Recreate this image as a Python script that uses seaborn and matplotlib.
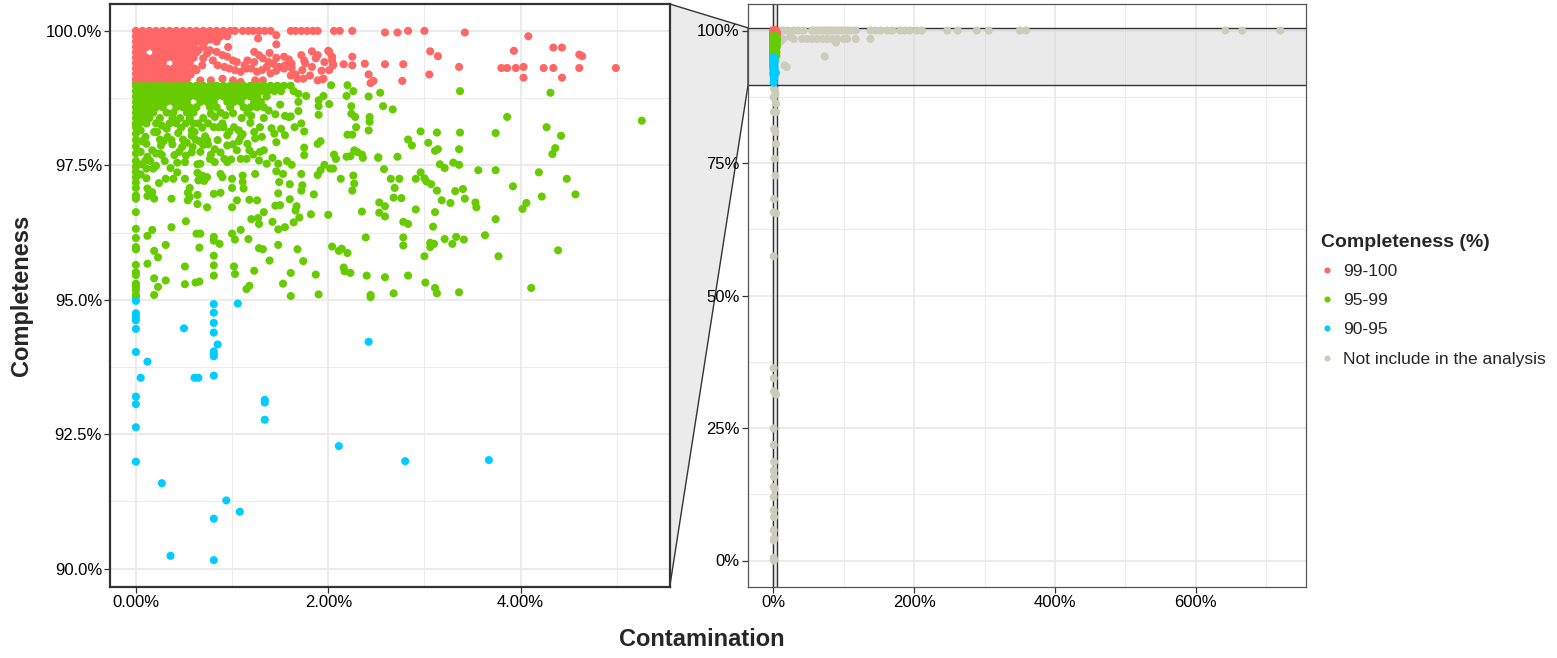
import matplotlib
matplotlib.use("Agg")
import matplotlib.pyplot as plt
import matplotlib.transforms as mtransforms
from matplotlib.patches import Polygon
from matplotlib.lines import Line2D
from matplotlib.ticker import FixedLocator, FuncFormatter
import pandas as pd
import seaborn as sns

sns.set_theme(style="white")
plt.rcParams["font.family"] = ["Liberation Sans", "DejaVu Sans"]

# ---------------------------------------------------------------------------
# Genome quality values (contamination %, completeness %)
# ---------------------------------------------------------------------------
GROUPS = ["99-100", "95-99", "90-95", "Not include in the analysis"]
COLORS = ["#FF6666", "#66CC00", "#00CCFF", "#CCCCBB"]

# dense band of genomes with 99-100 % completeness, one completeness level per row
red_rows = [
    (100.00, [0, 0.07, 0.14, 0.21, 0.28, 0.35, 0.42, 0.49, 0.56, 0.63, 0.70, 0.77, 0.84, 0.91, 0.98, 1.03]),
    (99.90, [0, 0.04, 0.11, 0.18, 0.25, 0.32, 0.39, 0.46, 0.53, 0.60, 0.67, 0.74, 0.81, 0.88, 0.95]),
    (99.80, [0, 0.07, 0.14, 0.21, 0.28, 0.35, 0.42, 0.49, 0.56, 0.63, 0.72, 0.84]),
    (99.70, [0, 0.04, 0.11, 0.18, 0.25, 0.32, 0.39, 0.46, 0.53, 0.60, 0.70, 0.96]),
    (99.60, [0, 0.07, 0.21, 0.28, 0.35, 0.42, 0.49, 0.56, 0.63]),
    (99.50, [0, 0.04, 0.11, 0.18, 0.25, 0.32, 0.39, 0.46, 0.53, 0.60]),
    (99.40, [0, 0.07, 0.14, 0.21, 0.28, 0.42, 0.49, 0.56]),
    (99.30, [0, 0.04, 0.11, 0.18, 0.25, 0.32, 0.39, 0.46, 0.53, 0.61]),
    (99.20, [0, 0.07, 0.14, 0.21, 0.28, 0.35, 0.42, 0.49, 0.56]),
    (99.10, [0, 0.04, 0.11, 0.18, 0.25, 0.32, 0.39, 0.46, 0.53]),
    (99.03, [0, 0.07, 0.14, 0.21, 0.28, 0.35, 0.42, 0.49]),
]

red_points = [
    (1.11, 100), (1.17, 100), (1.22, 100), (1.28, 100), (1.34, 100), (1.40, 100),
    (1.61, 100), (1.66, 100), (1.72, 100), (1.78, 100), (1.84, 100), (1.89, 100),
    (2.06, 100), (2.12, 100), (2.25, 100), (2.59, 99.97), (2.72, 99.97), (2.83, 100),
    (3.00, 100), (3.42, 99.97),
    (0.67, 99.80), (0.78, 99.84), (0.86, 99.88), (0.95, 99.95), (1.27, 99.86), (1.46, 99.92),
    (1.46, 99.75), (1.23, 99.61), (1.39, 99.59), (1.46, 99.50), (1.54, 99.52), (1.59, 99.47),
    (1.62, 99.39), (1.72, 99.55), (1.75, 99.45), (1.83, 99.62), (1.89, 99.55), (1.87, 99.49),
    (1.83, 99.33), (1.76, 99.40), (1.73, 99.27), (1.66, 99.19), (1.62, 99.31), (1.55, 99.36),
    (1.49, 99.33), (1.43, 99.39), (1.38, 99.42), (1.32, 99.49), (1.28, 99.55), (1.23, 99.42),
    (1.16, 99.45), (1.13, 99.36), (1.05, 99.42), (1.01, 99.45), (0.95, 99.52), (0.90, 99.55),
    (0.84, 99.61), (0.77, 99.64), (0.74, 99.58), (0.80, 99.45), (0.85, 99.36), (0.92, 99.33),
    (0.97, 99.30), (1.03, 99.27), (1.09, 99.24), (1.15, 99.30), (1.20, 99.30), (1.26, 99.24),
    (1.31, 99.27), (1.36, 99.33), (1.40, 99.21), (1.46, 99.26), (1.54, 99.30), (1.61, 99.17),
    (1.68, 99.11), (1.74, 99.11), (1.81, 99.17), (1.89, 99.08), (1.95, 99.11), (2.01, 99.27),
    (2.05, 99.36), (2.04, 99.45), (1.96, 99.42), (2.01, 99.61), (1.09, 99.05), (1.24, 99.08),
    (1.32, 99.08), (0.78, 99.08), (0.90, 99.11), (1.01, 99.08), (0.67, 99.08), (0.63, 99.27),
    (0.69, 99.36), (0.70, 99.49), (0.65, 99.64), (0.59, 99.55), (0.55, 99.39), (0.57, 99.19),
    (4.08, 99.90), (4.34, 99.69), (4.43, 99.69), (4.61, 99.56), (4.64, 99.53), (3.93, 99.63),
    (3.06, 99.62), (3.14, 99.53), (3.36, 99.33), (3.80, 99.31), (3.86, 99.31), (3.95, 99.31),
    (4.03, 99.33), (4.24, 99.31), (4.34, 99.31), (4.61, 99.31), (4.99, 99.31), (4.03, 99.13),
    (4.43, 99.13), (3.05, 99.19), (2.77, 99.07), (2.78, 99.38), (2.59, 99.38), (2.38, 99.39),
    (2.42, 99.19), (2.47, 99.07), (2.44, 99.03), (2.25, 99.52), (2.25, 99.36), (2.16, 99.38),
    (2.00, 99.63), (2.04, 99.52), (2.05, 99.38), (1.93, 99.26), (1.94, 99.10),
]

# dense band of genomes with 95-99 % completeness
green_rows = [
    (98.98, [0, 0.07, 0.14, 0.21, 0.28, 0.35, 0.42, 0.49, 0.56, 0.63, 0.70, 0.77, 0.84, 0.91,
             0.98, 1.05, 1.12, 1.19, 1.26, 1.33, 1.40, 1.47, 1.54, 1.61]),
    (98.88, [0, 0.04, 0.11, 0.18, 0.25, 0.32, 0.39, 0.46, 0.53, 0.60, 0.67, 0.74, 0.81, 0.88,
             0.95, 1.02, 1.09, 1.16, 1.23, 1.30, 1.37, 1.44, 1.51]),
    (98.78, [0, 0.07, 0.14, 0.21, 0.28, 0.35, 0.42, 0.49, 0.56, 0.63, 0.70, 0.77, 0.84, 0.91,
             0.98, 1.05, 1.12, 1.19, 1.26, 1.36]),
    (98.68, [0, 0.04, 0.11, 0.18, 0.25, 0.32, 0.39, 0.46, 0.53, 0.67, 0.74, 0.81, 0.95, 1.02,
             1.09, 1.23, 1.30]),
    (98.58, [0, 0.07, 0.14, 0.21, 0.28, 0.42, 0.49, 0.56, 0.63, 0.77, 0.84, 0.98, 1.12, 1.19,
             1.26, 1.33]),
    (98.48, [0, 0.04, 0.11, 0.18, 0.32, 0.39, 0.53, 0.60, 0.88, 1.16]),
    (98.38, [0, 0.07, 0.14, 0.25, 0.38, 0.46, 0.56, 0.70, 1.10, 1.33]),
    (98.28, [0, 0.04, 0.11, 0.21, 0.42, 0.52, 0.60, 0.65, 0.75, 0.90]),
]

green_zero_contamination = [
    95.05, 95.09, 95.18, 95.24, 95.30, 95.46, 95.51, 95.65, 95.94, 95.98, 96.15, 96.32,
    96.63, 96.88, 96.94, 97.08, 97.18, 97.28, 97.38, 97.47, 97.58, 97.72, 97.85, 97.97,
    98.09, 98.21,
]

green_points = [
    (2.03, 98.99), (2.20, 98.99), (2.26, 98.88), (2.19, 98.79), (1.95, 98.79), (1.90, 98.71),
    (2.01, 98.64), (1.90, 98.44), (1.90, 98.60), (1.77, 98.79), (1.69, 98.83), (1.64, 98.88),
    (1.69, 98.68), (1.69, 98.51), (1.61, 98.41), (1.59, 98.40), (1.72, 98.28), (1.75, 98.13),
    (1.65, 98.21), (1.55, 98.42), (1.50, 98.63), (2.24, 98.60), (2.24, 98.46), (2.28, 98.40),
    (2.29, 98.21), (2.42, 98.78), (2.54, 98.85), (2.57, 98.60), (2.67, 98.54), (2.43, 98.40),
    (2.43, 98.31), (2.42, 98.15), (2.25, 98.07), (2.20, 98.07), (1.41, 98.19), (1.44, 98.09),
    (1.51, 98.18), (1.55, 98.06), (1.46, 97.93), (1.29, 98.21), (1.31, 98.03), (1.19, 98.29),
    (1.23, 98.12), (1.09, 98.03), (1.07, 98.15), (1.02, 98.21), (0.95, 98.06), (0.97, 98.12),
    (0.91, 98.21), (1.01, 98.47), (0.93, 98.43), (0.78, 98.46), (0.82, 98.40), (0.78, 98.61),
    (0.86, 98.21), (0.81, 98.21), (0.69, 98.20), (0.72, 98.04), (0.74, 97.97), (0.75, 97.89),
    (0.66, 97.95), (0.58, 98.05), (0.58, 98.15), (0.49, 97.98), (0.48, 97.84), (0.59, 97.84),
    (0.58, 97.74), (0.52, 97.68), (0.38, 97.89), (0.37, 97.97), (0.33, 98.03), (0.32, 98.18),
    (0.35, 98.28), (0.27, 98.24), (0.25, 97.98), (0.26, 97.87), (0.25, 97.72), (0.19, 98.12),
    (0.17, 97.78), (0.10, 98.03), (0.11, 97.90), (0.12, 97.66), (0.10, 97.59), (0.21, 97.72),
    (0.27, 97.69), (0.40, 97.69), (0.45, 97.75), (0.61, 98.12), (0.67, 97.75), (0.78, 97.70),
    (0.82, 97.80), (0.88, 97.74), (0.85, 97.97), (0.95, 97.87), (1.01, 97.89), (1.05, 97.78),
    (1.07, 97.95), (1.11, 98.08), (1.16, 97.90), (1.18, 97.78), (1.22, 97.70), (1.24, 98.00),
    (1.28, 97.59), (1.33, 97.78), (1.15, 97.62), (1.09, 97.62), (0.99, 97.61), (0.95, 97.56),
    (0.92, 97.62), (0.82, 97.56), (0.77, 97.62), (0.67, 97.53),
    (0.05, 98.15), (0.06, 97.95), (0.05, 97.75), (0.06, 97.52), (0.05, 97.33), (0.22, 98.12),
    (0.29, 97.95), (0.15, 97.58), (0.30, 97.58), (0.36, 97.45), (0.44, 98.10), (0.47, 98.20),
    (0.53, 97.92), (0.43, 97.55), (0.62, 97.98), (0.70, 97.88), (1.20, 98.42), (1.38, 98.52),
    (1.45, 98.45),
    (0.12, 97.07), (0.12, 96.93), (0.19, 96.88), (0.17, 97.00), (0.37, 96.88), (0.54, 96.85),
    (0.56, 96.91), (0.64, 96.78), (0.51, 97.25), (0.39, 97.25), (0.31, 97.25), (0.24, 97.17),
    (0.11, 97.26), (0.11, 97.44), (0.18, 97.44), (0.21, 97.49), (0.43, 97.37), (0.51, 97.56),
    (0.64, 97.52), (0.64, 97.36), (0.69, 97.31), (0.71, 97.21), (0.74, 97.28), (0.65, 97.22),
    (0.56, 97.08), (0.54, 96.99), (0.64, 96.95), (0.81, 96.97), (0.88, 96.99), (0.88, 97.34),
    (0.90, 97.28), (1.00, 97.25), (1.00, 97.08), (1.00, 96.72), (1.05, 96.85), (1.11, 97.31),
    (1.11, 97.19), (1.12, 97.07), (1.18, 96.86), (1.24, 97.34), (1.26, 96.85), (1.29, 97.75),
    (1.36, 97.53), (1.42, 97.64), (1.48, 97.53), (1.46, 97.39), (1.53, 97.34), (1.57, 97.58),
    (1.62, 97.51), (1.49, 97.19), (1.60, 97.15), (1.72, 97.34), (1.73, 97.13), (1.75, 97.83),
    (1.75, 97.69), (1.89, 97.90), (1.92, 97.95), (1.89, 97.32), (1.92, 97.41), (1.96, 97.51),
    (2.05, 97.44), (2.02, 97.44), (2.06, 97.70), (2.08, 97.62), (2.13, 97.25), (2.26, 97.31),
    (2.27, 97.16), (2.25, 97.03), (2.23, 97.67), (2.27, 97.78), (2.30, 97.75), (2.19, 97.66),
    (2.35, 97.70), (2.36, 97.64), (2.52, 97.65),
    (5.26, 98.33), (4.31, 98.85), (3.37, 98.88), (3.86, 98.40), (4.27, 98.21), (4.42, 98.05),
    (4.36, 97.82), (4.33, 97.71), (3.74, 98.10), (3.37, 98.11), (3.13, 98.11), (2.96, 98.13),
    (2.83, 97.98), (2.87, 97.87), (3.04, 97.92), (3.14, 97.80), (3.11, 97.77), (3.36, 97.80),
    (2.72, 97.66), (2.52, 97.64), (3.16, 97.52), (3.21, 97.45), (3.30, 97.55), (3.36, 97.51),
    (3.56, 97.41), (3.74, 97.41), (4.19, 97.37), (4.48, 97.25), (4.57, 96.96), (4.22, 96.92),
    (4.06, 96.80), (4.02, 96.69), (3.92, 97.11), (3.53, 96.81), (3.54, 96.72), (3.42, 96.88),
    (3.40, 97.06), (3.32, 97.02), (3.27, 96.80), (3.18, 96.85), (3.13, 97.03), (3.07, 97.15),
    (3.00, 97.26), (2.96, 97.37), (2.91, 97.25), (3.02, 97.20), (2.58, 97.43), (2.65, 97.25),
    (2.74, 97.25), (2.69, 97.08), (2.68, 96.90), (2.76, 96.89), (2.53, 96.81), (2.59, 96.74),
    (2.53, 96.62), (2.59, 96.55), (2.91, 96.68), (3.11, 96.63), (3.09, 96.36), (2.78, 96.45),
    (2.83, 96.41), (2.35, 96.64), (3.74, 96.50), (3.63, 96.20), (3.33, 96.17), (3.41, 96.12),
    (3.21, 96.13), (3.06, 96.06), (3.10, 96.04), (3.06, 95.98), (3.29, 96.04), (2.78, 96.16),
    (2.78, 96.01), (3.00, 95.81), (3.77, 95.81), (4.39, 95.92), (4.11, 95.22), (3.36, 95.14),
    (3.13, 95.12), (3.11, 95.22), (3.01, 95.32), (2.83, 95.45), (2.68, 95.12), (2.59, 95.42),
    (2.44, 95.09), (2.44, 95.05), (2.40, 95.45), (2.39, 96.16), (2.20, 95.87), (2.16, 95.60),
    (2.17, 95.53), (2.23, 95.50), (2.14, 95.95), (2.11, 95.91), (2.04, 95.99), (2.00, 96.58),
    (1.82, 96.59), (1.66, 96.66), (1.70, 96.53), (1.64, 96.44), (1.60, 96.87), (1.72, 97.03),
    (1.85, 96.96), (1.90, 95.10), (1.87, 95.47), (1.74, 95.72), (1.68, 95.94), (1.48, 96.02),
    (1.39, 95.73), (1.23, 95.54), (1.18, 95.26), (1.15, 95.20), (1.53, 95.30), (1.61, 95.50),
    (1.61, 95.07), (1.28, 95.96), (1.32, 95.94), (1.17, 96.13), (1.02, 95.62), (1.03, 95.48),
    (1.00, 96.23), (1.09, 96.30), (1.03, 96.12), (1.20, 96.50), (1.27, 96.52), (1.28, 96.41),
    (1.33, 96.63), (1.42, 96.45), (1.48, 96.31), (1.55, 96.35), (1.50, 96.76), (1.45, 96.75),
    (1.48, 96.98), (1.67, 96.74), (0.87, 96.04), (0.81, 96.10), (0.81, 95.82), (0.81, 95.64),
    (0.81, 95.45), (0.74, 96.72), (0.81, 96.17), (0.66, 95.97), (0.67, 96.23), (0.63, 96.23),
    (0.62, 95.32), (0.66, 95.34), (0.51, 95.29), (0.51, 95.62), (0.52, 96.46), (0.37, 96.35),
    (0.31, 96.02), (0.31, 95.36), (0.23, 95.24), (0.19, 95.09), (0.19, 95.40), (0.23, 95.79),
    (0.19, 95.91), (0.12, 95.67), (0.12, 96.19), (0.17, 96.30),
]

blue_points = [
    (0, 94.98), (0, 94.75), (0, 94.69), (0, 94.62), (0, 94.46), (0, 94.03), (0, 93.20),
    (0, 93.06), (0, 92.63), (0, 91.99), (0.12, 93.85), (0.05, 93.55), (0.27, 91.59),
    (0.36, 90.24), (0.50, 94.47), (0.61, 93.55), (0.65, 93.55), (0.81, 94.92), (0.81, 94.76),
    (0.81, 94.57), (0.81, 94.39), (0.85, 94.17), (0.81, 94.04), (0.81, 93.99), (0.81, 93.95),
    (0.81, 93.59), (0.81, 90.93), (0.81, 90.16), (0.94, 91.27), (1.06, 94.93), (1.08, 91.06),
    (1.34, 93.14), (1.34, 93.09), (1.34, 92.77), (2.11, 92.28), (2.42, 94.22), (2.80, 92.00),
    (3.67, 92.02),
]

gray_full_contamination = [
    9, 14, 20, 29, 36, 43, 55, 58, 62, 66, 70, 74, 77, 80, 84, 88, 91, 95, 98, 102, 105, 110,
    117, 138, 145, 152, 162, 169, 180, 187, 194, 204, 211, 247, 262, 289, 306, 350, 359, 642,
    666, 720,
]

gray_points = [
    (14, 98.4), (29, 98.4), (41, 98.4), (48, 98.4), (55, 98.4), (62, 98.4), (70, 98.4),
    (77, 98.4), (84, 98.4), (91, 98.4), (100, 98.4), (105, 98.4), (117, 98.4), (138, 98.4),
    (89, 97.7), (10, 97.9), (24, 98.8), (73, 95.1), (16, 93.4), (19, 93.1),
    (1, 89.0), (3, 88.1), (0.5, 87.4), (4, 86.2), (1, 84.6), (4, 84.6), (1, 81.4), (3, 80.8),
    (4, 78.6), (2, 75.8), (3, 72.6), (1, 68.2), (0.5, 65.7), (4, 65.5), (0.5, 57.4),
    (0.5, 36.3), (0.5, 34.4), (1, 31.9), (4, 31.3), (0.5, 24.9), (0.5, 21.8), (1, 18.6),
    (0.5, 17.0), (1, 15.8), (0.5, 13.9), (2, 13.5), (0.5, 12.0), (0.5, 9.5), (1, 8.2),
    (0.5, 5.7), (1, 4.2), (0.5, 3.8), (0.5, 0.5), (1, 0.0),
]

# ---------------------------------------------------------------------------
# Assemble a tidy table (drawing order: excluded, then 99-100, 95-99, 90-95)
# ---------------------------------------------------------------------------
records = []
records += [(x, 100.0, GROUPS[3]) for x in gray_full_contamination]
records += [(x, y, GROUPS[3]) for x, y in gray_points]
for y, xs in red_rows:
    records += [(x, y, GROUPS[0]) for x in xs]
records += [(x, y, GROUPS[0]) for x, y in red_points]
for y, xs in green_rows:
    records += [(x, y, GROUPS[1]) for x in xs]
records += [(0.0, y, GROUPS[1]) for y in green_zero_contamination]
records += [(x, y, GROUPS[1]) for x, y in green_points]
records += [(x, y, GROUPS[2]) for x, y in blue_points]
df = pd.DataFrame(records, columns=["Contamination", "Completeness", "group"])

palette = dict(zip(GROUPS, COLORS))

# ---------------------------------------------------------------------------
# Figure: zoomed panel (left) + full panel (right)
# ---------------------------------------------------------------------------
W, H = 1557, 658
fig = plt.figure(figsize=(W / 100, H / 100), dpi=100)
ax_zoom = fig.add_axes([110.4 / W, 1 - 587 / H, 559.3 / W, 583 / H])
ax_full = fig.add_axes([748 / W, 1 - 587 / H, 557.6 / W, 583 / H])

zoom_x = (-0.265, 5.55)
zoom_y = (89.66, 100.5)
full_x = (-36, 756)
full_y = (-5, 105)

GRID = "#EBEBEB"
DARK = "#333333"

for ax in (ax_zoom, ax_full):
    sns.scatterplot(data=df, x="Contamination", y="Completeness", hue="group",
                    hue_order=GROUPS, palette=palette, s=34, linewidth=0,
                    legend=False, ax=ax, zorder=3)
    ax.set_xlabel("")
    ax.set_ylabel("")
    ax.set_axisbelow(True)
    ax.grid(which="major", color=GRID, lw=1.4)
    ax.grid(which="minor", color=GRID, lw=0.7)
    ax.tick_params(which="major", bottom=True, left=True, length=4, width=0.9,
                   color=DARK, direction="out", labelsize=12, labelcolor="black", pad=2)
    ax.tick_params(which="minor", length=0)

ax_zoom.set_xlim(*zoom_x)
ax_zoom.set_ylim(*zoom_y)
ax_zoom.xaxis.set_major_locator(FixedLocator([0, 2, 4]))
ax_zoom.xaxis.set_minor_locator(FixedLocator([1, 3, 5]))
ax_zoom.yaxis.set_major_locator(FixedLocator([90, 92.5, 95, 97.5, 100]))
ax_zoom.yaxis.set_minor_locator(FixedLocator([91.25, 93.75, 96.25, 98.75]))
ax_zoom.xaxis.set_major_formatter(FuncFormatter(lambda v, _: f"{v:.2f}%"))
ax_zoom.yaxis.set_major_formatter(FuncFormatter(lambda v, _: f"{v:.1f}%"))
for s in ax_zoom.spines.values():
    s.set_color(DARK)
    s.set_linewidth(1.6)

ax_full.set_xlim(*full_x)
ax_full.set_ylim(*full_y)
ax_full.xaxis.set_major_locator(FixedLocator([0, 200, 400, 600]))
ax_full.xaxis.set_minor_locator(FixedLocator([100, 300, 500, 700]))
ax_full.yaxis.set_major_locator(FixedLocator([0, 25, 50, 75, 100]))
ax_full.yaxis.set_minor_locator(FixedLocator([12.5, 37.5, 62.5, 87.5]))
ax_full.xaxis.set_major_formatter(FuncFormatter(lambda v, _: f"{v:.0f}%"))
ax_full.yaxis.set_major_formatter(FuncFormatter(lambda v, _: f"{v:.0f}%"))
for s in ax_full.spines.values():
    s.set_color("#555555")
    s.set_linewidth(0.9)

# zoom indicator on the full panel
ax_full.axhspan(*zoom_y, facecolor="#D6D6D6", alpha=0.5, edgecolor="none", zorder=1.5)
ax_full.axvspan(*zoom_x, facecolor="#D6D6D6", alpha=0.5, edgecolor="none", zorder=1.5)
for yv in zoom_y:
    ax_full.axhline(yv, color=DARK, lw=1.0, zorder=1.6)
for xv in zoom_x:
    ax_full.axvline(xv, color=DARK, lw=1.0, zorder=1.6)

# connector between the two panels
to_fig = fig.transFigure.inverted()
edge = mtransforms.blended_transform_factory(ax_full.transAxes, ax_full.transData)
corners = [
    to_fig.transform(ax_zoom.transAxes.transform((1, 1))),
    to_fig.transform(edge.transform((0, zoom_y[1]))),
    to_fig.transform(edge.transform((0, zoom_y[0]))),
    to_fig.transform(ax_zoom.transAxes.transform((1, 0))),
]
fig.add_artist(Polygon(corners, closed=True, transform=fig.transFigure,
                       facecolor="#EBEBEB", edgecolor=DARK, lw=1.0, zorder=0))

# axis titles
fig.text(22 / W, 1 - 295 / H, "Completeness", rotation=90, ha="center", va="center",
         fontsize=17, fontweight="bold")
fig.text(702 / W, 1 - 639 / H, "Contamination", ha="center", va="center",
         fontsize=17, fontweight="bold")

# legend
handles = [Line2D([0], [0], marker="o", linestyle="", markersize=4.4,
                  markerfacecolor=c, markeredgewidth=0) for c in COLORS]
leg = fig.legend(handles, GROUPS, title="Completeness (%)", loc="upper left",
                 bbox_to_anchor=(1321 / W, 1 - 234 / H), frameon=False,
                 fontsize=12.5, title_fontsize=14, borderpad=0, labelspacing=0.82,
                 handlelength=0.7, handletextpad=0.55, borderaxespad=0,
                 alignment="left")
leg.get_title().set_fontweight("bold")
leg._legend_box.sep = 9

fig.savefig("out.png", dpi=100)
